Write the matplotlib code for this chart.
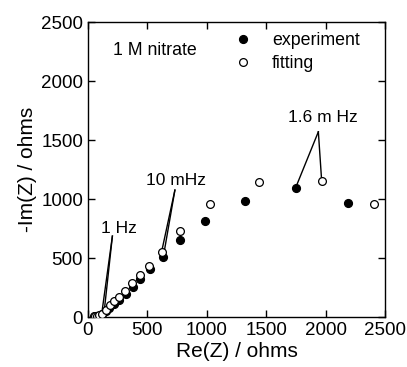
import matplotlib
matplotlib.use("Agg")
import matplotlib.pyplot as plt

plt.rcParams["font.family"] = ["Liberation Sans", "DejaVu Sans"]

# experiment (filled) and fitting (open), Re(Z) vs -Im(Z)
exp_re = [55, 65, 80, 100, 120, 150, 180, 220, 262, 318, 376, 438, 522, 634, 777, 988, 1324, 1748, 2189]
exp_im = [3, 5, 8, 12, 25, 50, 75, 110, 148, 196, 254, 322, 407, 506, 652, 816, 986, 1096, 966]
fit_re = [50, 60, 75, 95, 115, 149, 183, 222, 261, 311, 373, 440, 516, 626, 774, 1030, 1442, 1967, 2407]
fit_im = [5, 8, 10, 15, 25, 59, 99, 138, 172, 223, 291, 358, 432, 553, 726, 955, 1141, 1152, 960]

# frequency labels: text, text position, apex, targets
labels = ["1 Hz", "10 mHz", "1.6 m Hz"]
label_xy = [(264, 752), (741, 1161), (1980, 1695)]
apex_xy = [(206, 686), (732, 1076), (1939, 1570)]
targets = [[(115, 20), (135, 30)], [(620, 553), (634, 508)], [(1748, 1096), (1967, 1152)]]

fig = plt.figure(figsize=(4.07, 3.67), dpi=100)
ax = fig.add_axes([0.216, 0.136, 0.730, 0.804])

ax.plot(exp_re, exp_im, "o", color="black", markersize=5.6, label="experiment", zorder=3)
ax.plot(fit_re, fit_im, "o", markerfacecolor="white", markeredgecolor="black",
        markeredgewidth=0.9, markersize=5.6, label="fitting", zorder=3)

for txt, (tx, ty), (axx, ayy), tg in zip(labels, label_xy, apex_xy, targets):
    ax.text(tx, ty, txt, ha="center", va="center", fontsize=12.5)
    for (px, py) in tg:
        ax.plot([axx, px], [ayy, py], color="black", lw=1.0, zorder=2)

ax.text(210, 2260, "1 M nitrate", ha="left", va="center", fontsize=12.8)

ax.set_xlim(0, 2500)
ax.set_ylim(0, 2500)
ax.set_xticks([0, 500, 1000, 1500, 2000, 2500])
ax.set_yticks([0, 500, 1000, 1500, 2000, 2500])
ax.tick_params(direction="in", top=True, right=True, length=5, width=1, labelsize=13.5)
for s in ax.spines.values():
    s.set_linewidth(1.0)

ax.set_xlabel("Re(Z) / ohms", fontsize=15, labelpad=2)
ax.set_ylabel("-Im(Z) / ohms", fontsize=15, labelpad=3)

ax.legend(loc="upper left", bbox_to_anchor=(0.452, 1.0), frameon=False, fontsize=12.8,
          handletextpad=1.05, borderaxespad=0.15, labelspacing=0.35, handlelength=1.2)

fig.savefig("out.png", dpi=100)
